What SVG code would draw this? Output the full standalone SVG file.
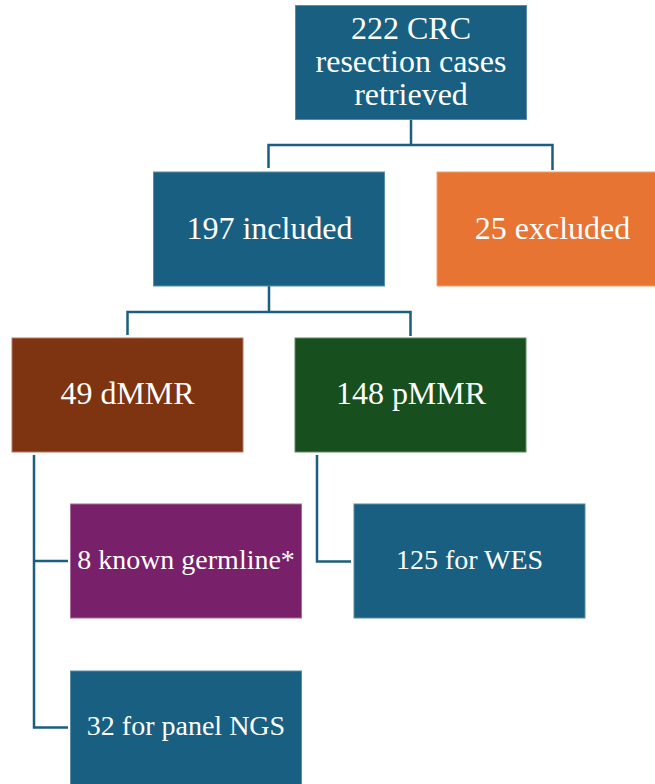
<svg xmlns="http://www.w3.org/2000/svg" width="655" height="784" viewBox="0 0 655 784">
<style>
.box{stroke-width:1}
.blue{fill:#185F81;stroke:#5A8CA6}
.orange{fill:#E87433;stroke:#F0A075}
.brown{fill:#7E3311;stroke:#B07A60}
.green{fill:#17501E;stroke:#5E8A62}
.purple{fill:#79206A;stroke:#A86A9C}
.t{font-family:"Liberation Serif","Times New Roman",serif;font-size:28px;fill:#FFFFFF;text-anchor:middle}
.c{fill:none;stroke:#1B5E7F;stroke-width:2.5}
</style>
<rect width="655" height="784" fill="#FFFFFF"/>
<g id="connectors">
<path class="c" d="M411 120 V145 M268.5 168 V145 H552.5 V170"/>
<path class="c" d="M269 286 V312 M127.5 335 V312 H410.5 V336"/>
<path class="c" d="M34 455 V727.5 H68 M34 561 H68"/>
<path class="c" d="M317 455 V561.5 H351"/>
</g>
<g id="n_retrieved">
<rect class="box blue" x="295.5" y="5.5" width="231" height="114"/>
<text class="t" transform="translate(411 39) scale(1.1428)" x="0" y="0">222 CRC</text>
<text class="t" transform="translate(411 72) scale(1.1428)" x="0" y="0">resection cases</text>
<text class="t" transform="translate(411 105) scale(1.1428)" x="0" y="0">retrieved</text>
</g>
<g id="n_included">
<rect class="box blue" x="153.5" y="172" width="231" height="114"/>
<text class="t" transform="translate(269.5 238.5) scale(1.1428)" x="0" y="0">197 included</text>
</g>
<g id="n_excluded">
<rect class="box orange" x="437" y="172" width="231" height="114"/>
<text class="t" transform="translate(552.5 238.5) scale(1.1428)" x="0" y="0">25 excluded</text>
</g>
<g id="n_dmmr">
<rect class="box brown" x="12" y="338" width="231" height="114"/>
<text class="t" transform="translate(127.5 404) scale(1.1428)" x="0" y="0">49 dMMR</text>
</g>
<g id="n_pmmr">
<rect class="box green" x="295" y="338" width="231" height="114"/>
<text class="t" transform="translate(411 404) scale(1.1428)" x="0" y="0">148 pMMR</text>
</g>
<g id="n_germline">
<rect class="box purple" x="70.5" y="504" width="231" height="114"/>
<text class="t" x="186" y="568.5">8 known germline*</text>
</g>
<g id="n_wes">
<rect class="box blue" x="354" y="504" width="231" height="114"/>
<text class="t" x="469.5" y="568.5">125 for WES</text>
</g>
<g id="n_ngs">
<rect class="box blue" x="70.5" y="671" width="231" height="114"/>
<text class="t" x="186" y="735">32 for panel NGS</text>
</g>
</svg>
